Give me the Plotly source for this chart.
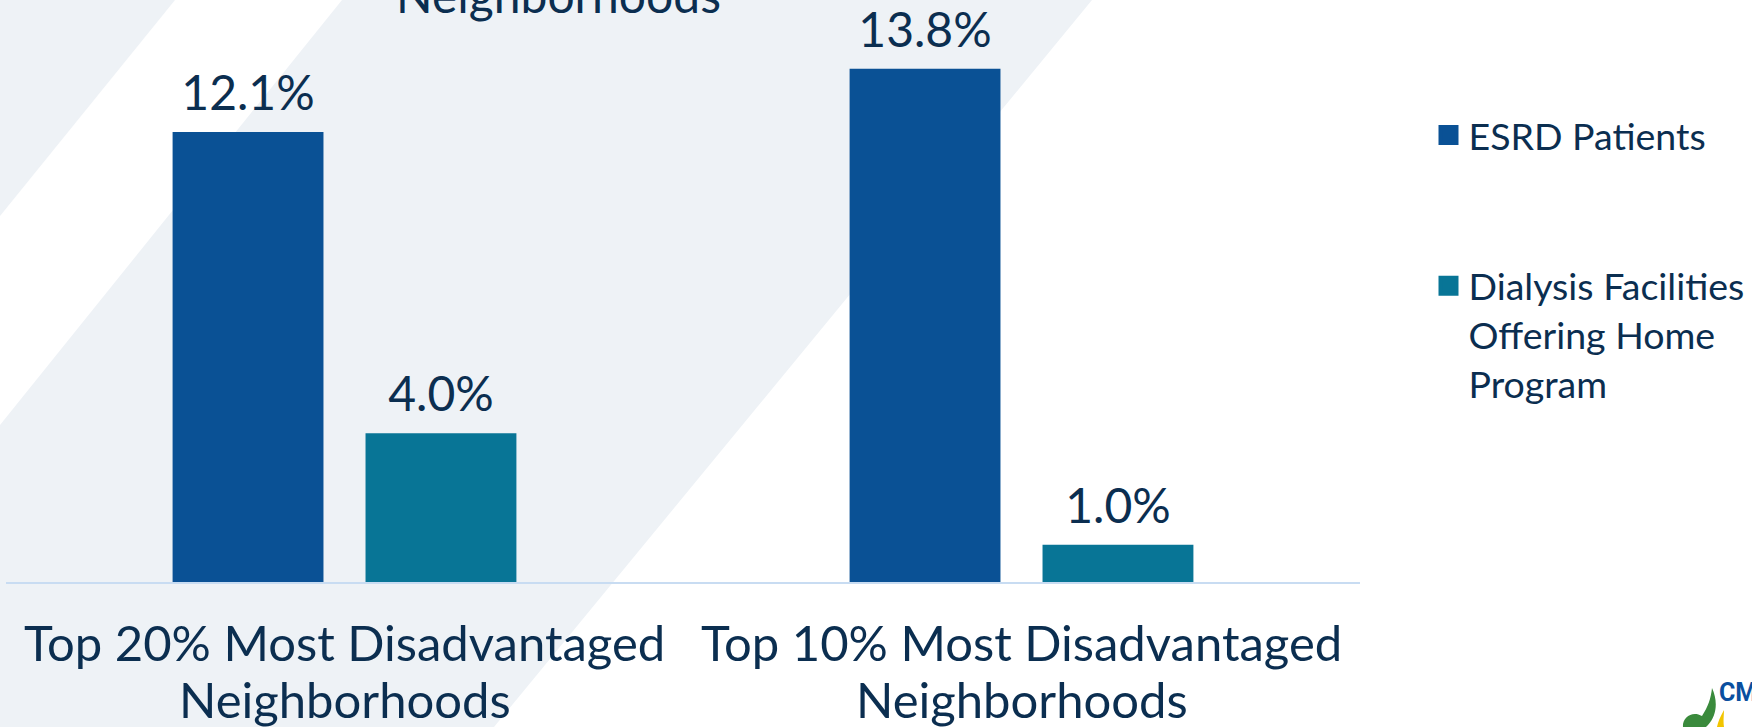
import plotly.graph_objects as go

# --- data -------------------------------------------------------------
category_line1 = ["Top 20% Most Disadvantaged", "Top 10% Most Disadvantaged"]
category_line2 = ["Neighborhoods", "Neighborhoods"]
categories = [f"{a}<br>{b}" for a, b in zip(category_line1, category_line2)]
series_names = [
    "ESRD Patients",
    "Dialysis Facilities<br>Offering Home<br>Program",
]
esrd_patients = [12.1, 13.8]
home_program_facilities = [4.0, 1.0]
title_tail = "Neighborhoods"

# --- styling ------------------------------------------------------------
W, H = 1752, 727
ML, MR, MT, MB = 6, 392, 24, 145
PW, PH = W - ML - MR, H - MT - MB
NAVY = "#0b2e50"
BLUE = "#0a5195"
TEAL = "#087596"
BAND = "#eef2f6"
FONT = "Lato"
GAP = 0.43


def px(x):
    return (x - ML) / PW


def py(y):
    return (H - MB - y) / PH


def path(points):
    return "M" + " L".join(f"{px(x):.5f},{py(y):.5f}" for x, y in points) + " Z"


fig = go.Figure()

series_values = [esrd_patients, home_program_facilities]
colors = [BLUE, TEAL]
for i, (name, vals, col) in enumerate(zip(series_names, series_values, colors)):
    fig.add_trace(go.Bar(
        x=categories, y=vals, name=name, showlegend=False,
        offsetgroup=str(i),
        marker=dict(color=col, line=dict(width=0)),
    ))
    # value labels sitting above each bar
    fig.add_trace(go.Scatter(
        x=categories, y=vals, mode="markers+text", showlegend=False,
        offsetgroup=str(i), hoverinfo="skip",
        marker=dict(size=14, opacity=0),
        text=[f"{v:.1f}%" for v in vals], textposition="top center",
        textfont=dict(family=FONT, size=48, color=NAVY),
        cliponaxis=False,
    ))
    # legend entry with a larger square swatch
    fig.add_trace(go.Scatter(
        x=[None], y=[None], mode="markers", name=name, legendgroup=name,
        marker=dict(symbol="square", size=16, color=col,
                    line=dict(width=4, color=col)),
    ))

# diagonal background bands
shapes = [
    dict(type="path", xref="paper", yref="paper", layer="below",
         path=path([(0, 0), (175, 0), (0, 216)]),
         fillcolor=BAND, line=dict(width=0)),
    dict(type="path", xref="paper", yref="paper", layer="below",
         path=path([(342, 0), (1092, 0), (494, 727), (0, 727), (0, 425)]),
         fillcolor=BAND, line=dict(width=0)),
]


def curve(d):
    # d is a list of (cmd, [(x, y), ...]) in page pixels
    out = []
    for cmd, pts in d:
        out.append(cmd + " ".join(f"{px(x):.5f},{py(y):.5f}" for x, y in pts))
    return " ".join(out) + " Z"


# corner logo mark
shapes.append(dict(
    type="path", xref="paper", yref="paper", layer="above",
    path=curve([
        ("M", [(1712, 688)]),
        ("C", [(1718, 701), (1717, 715), (1708, 725)]),
        ("L", [(1706, 727)]),
        ("L", [(1683, 727)]),
        ("C", [(1682, 718), (1692, 710), (1702, 716)]),
        ("C", [(1708, 707), (1711, 698), (1712, 688)]),
    ]),
    fillcolor="#3a8a3c", line=dict(width=0),
))
shapes.append(dict(
    type="path", xref="paper", yref="paper", layer="above",
    path=curve([
        ("M", [(1724, 710)]),
        ("C", [(1720, 717), (1718, 722), (1717, 727)]),
        ("L", [(1724, 727)]),
        ("C", [(1723, 721), (1724, 715), (1724, 710)]),
    ]),
    fillcolor="#f2c500", line=dict(width=0),
))

label_font = dict(family=FONT, size=49, color=NAVY)
annotations = [
    dict(text=title_tail, xref="paper", yref="paper",
         x=px(558), y=py(25), xanchor="center", yanchor="bottom",
         showarrow=False, font=dict(family=FONT, size=48, color=NAVY)),
    dict(text="<b>CMS</b>", xref="paper", yref="paper",
         x=px(1717), y=py(692), xanchor="left", yanchor="middle",
         showarrow=False, font=dict(family="Roboto", size=25, color="#0a4f9f")),
]
# two-line category labels under the axis
for cat, l1, l2 in zip(categories, category_line1, category_line2):
    annotations.append(dict(text=l1, x=cat, xref="x", yref="paper",
                            y=py(642), xanchor="center", yanchor="middle",
                            showarrow=False, font=label_font))
    annotations.append(dict(text=l2, x=cat, xref="x", yref="paper",
                            y=py(699), xanchor="center", yanchor="middle",
                            showarrow=False, font=label_font))

fig.update_layout(
    width=W, height=H,
    margin=dict(l=ML, r=MR, t=MT, b=MB, pad=0, autoexpand=False),
    paper_bgcolor="white", plot_bgcolor="rgba(0,0,0,0)",
    barmode="group", bargap=GAP, bargroupgap=0.218,
    scattermode="group", scattergap=GAP,
    font=dict(family=FONT, color=NAVY),
    shapes=shapes, annotations=annotations,
    legend=dict(
        x=px(1428.5), y=py(104), xanchor="left", yanchor="top",
        font=dict(family=FONT, size=37.5, color=NAVY),
        bgcolor="rgba(0,0,0,0)", tracegroupgap=99,
        itemsizing="trace", valign="top",
    ),
    xaxis=dict(
        showline=True, linecolor="#c8dcf2", linewidth=2,
        showgrid=False, ticks="", zeroline=False, automargin=False,
        showticklabels=False,
    ),
    yaxis=dict(range=[0, 15], visible=False, showgrid=False, zeroline=False,
               automargin=False),
)

fig.write_html("out.html")
